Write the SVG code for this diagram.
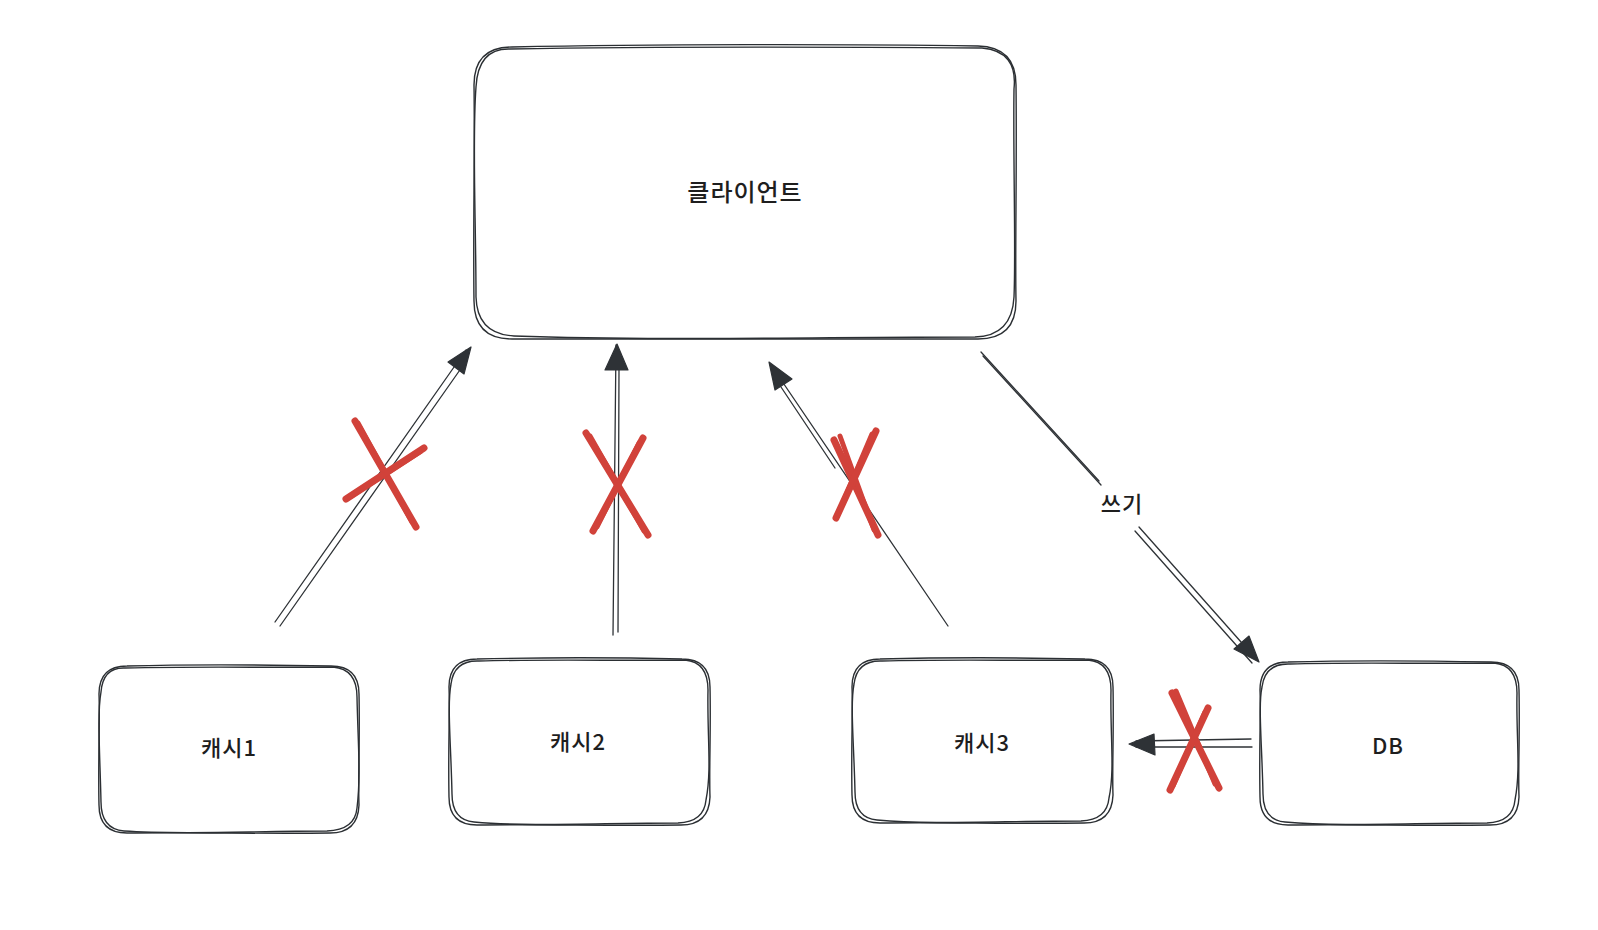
<svg xmlns="http://www.w3.org/2000/svg" width="1598" height="930" viewBox="0 0 1598 930">
<style>
.box{fill:none;stroke:#2b2f33;stroke-width:1.4;stroke-linecap:round;stroke-linejoin:round}
.ln{fill:none;stroke:#2e3236;stroke-width:1.3;stroke-linecap:round}
.head{fill:#2e3236;stroke:#2e3236;stroke-width:1.2;stroke-linejoin:round}
.x{fill:none;stroke:#d1423a;stroke-width:7;stroke-linecap:round}
.x2{fill:none;stroke:#d1423a;stroke-width:5;stroke-linecap:round}
.t{font-family:"Noto Sans CJK KR","Noto Sans",sans-serif;font-weight:500;fill:#1e1e1e;text-anchor:middle;dominant-baseline:central;letter-spacing:1px}
</style>
<rect width="1598" height="930" fill="#ffffff"/>
<g id="client">
<path class="box" d="M512,47 C650,44 850,44 978,46 Q1016,47 1016,85 C1017,170 1015,250 1016,301 Q1016,339 978,339 C850,340 650,338 512,339 Q474,339 474,301 C473,230 475,150 474,85 Q474,47 512,47 Z"/>
<path class="box" d="M510,49 C680,46 840,47 982,48 Q1018,51 1014,89 C1013,160 1016,250 1014,297 Q1012,336 975,337 C820,337 660,341 514,336 Q477,334 476,297 C476,220 472,140 476,87 Q478,48 510,49"/>
<text class="t" x="745" y="190" font-size="24">클라이언트</text>
</g>
<g id="cache1">
<path class="box" d="M127,666 C200,664 280,665 331,666 Q359,666 359,694 C360,740 358,780 359,805 Q358,833 330,833 C260,834 190,832 127,833 Q99,833 99,805 C98,760 100,720 99,694 Q99,666 127,666 Z"/>
<path class="box" d="M125,668 C210,666 270,668 333,667 Q357,669 357,697 C358,745 361,775 357,808 Q355,830 327,831 C250,831 180,835 124,831 Q101,829 101,802 C100,755 97,715 101,692 Q103,667 125,668"/>
<text class="t" x="229" y="746" font-size="22">캐시1</text>
</g>
<g id="cache2">
<path class="box" d="M477,659 C560,657 640,658 682,659 Q710,659 710,687 C711,730 709,770 710,797 Q709,825 681,825 C610,826 540,824 477,825 Q449,825 449,797 C448,750 450,710 449,687 Q449,659 477,659 Z"/>
<path class="box" d="M479,661 C550,659 630,661 685,660 Q708,662 708,690 C707,735 712,770 706,800 Q704,822 678,823 C600,823 530,827 474,822 Q452,820 452,794 C451,745 447,705 451,684 Q454,660 479,661"/>
<text class="t" x="578" y="740" font-size="22">캐시2</text>
</g>
<g id="cache3">
<path class="box" d="M880,659 C960,657 1040,658 1085,659 Q1113,659 1113,687 C1114,730 1112,770 1113,795 Q1112,823 1084,823 C1010,824 940,822 880,823 Q852,823 852,795 C851,750 853,710 852,687 Q852,659 880,659 Z"/>
<path class="box" d="M882,661 C950,659 1030,661 1088,660 Q1111,662 1111,690 C1110,735 1115,770 1109,798 Q1107,820 1081,821 C1000,821 930,825 877,820 Q855,818 855,792 C854,745 850,705 854,684 Q857,660 882,661"/>
<text class="t" x="982" y="741" font-size="22">캐시3</text>
</g>
<g id="db">
<path class="box" d="M1288,662 C1360,660 1440,661 1491,662 Q1519,662 1519,690 C1520,735 1518,770 1519,797 Q1518,825 1490,825 C1420,826 1350,824 1288,825 Q1260,825 1260,797 C1259,750 1261,710 1260,690 Q1260,662 1288,662 Z"/>
<path class="box" d="M1290,664 C1350,662 1430,664 1494,663 Q1517,665 1517,693 C1516,735 1521,770 1515,800 Q1513,822 1487,823 C1410,823 1340,827 1285,822 Q1263,820 1263,794 C1262,745 1258,705 1262,687 Q1265,663 1290,664"/>
<text class="t" x="1388" y="744" font-size="22">DB</text>
</g>
<g id="connectors">
<path class="ln" d="M275,622 L466,350"/>
<path class="ln" d="M280,626 L462,367"/>
<path class="head" d="M471,347 L464,374 L448,362 Z"/>
<path class="ln" d="M613,635 L616,345"/>
<path class="ln" d="M618,632 L619,368"/>
<path class="head" d="M617,344 L628,370 L605,370 Z"/>
<path class="ln" d="M948,626 L771,365"/>
<path class="ln" d="M835,468 L779,384"/>
<path class="head" d="M769,362 L792,379 L775,390 Z"/>
<path class="ln" d="M981,352 L1099,481"/>
<path class="ln" d="M983,356 L1101,485"/>
<path class="ln" d="M1139,527 L1257,660"/>
<path class="ln" d="M1135,531 L1252,663"/>
<path class="head" d="M1259,662 L1249,636 L1234,649 Z"/>
<text class="t" x="1122" y="502" font-size="22">쓰기</text>
<path class="ln" d="M1251,739 L1136,741"/>
<path class="ln" d="M1252,747 L1136,747"/>
<path class="head" d="M1129,744 L1154,734 L1155,755 Z"/>
</g>
<g id="crosses">
<path class="x" d="M355,421 L416,527"/>
<path class="x2" d="M358,423 L412,522"/>
<path class="x" d="M346,499 L424,448"/>
<path class="x2" d="M350,497 L420,452"/>
<path class="x" d="M586,433 L648,535"/>
<path class="x2" d="M590,436 L644,531"/>
<path class="x" d="M643,438 L593,531"/>
<path class="x2" d="M639,443 L597,527"/>
<path class="x" d="M834,440 L878,535"/>
<path class="x2" d="M840,436 L874,530"/>
<path class="x" d="M876,431 L836,518"/>
<path class="x2" d="M872,434 L838,514"/>
<path class="x" d="M1172,693 L1219,788"/>
<path class="x2" d="M1176,691 L1215,784"/>
<path class="x" d="M1208,708 L1170,790"/>
<path class="x2" d="M1205,712 L1173,786"/>
</g>
</svg>
